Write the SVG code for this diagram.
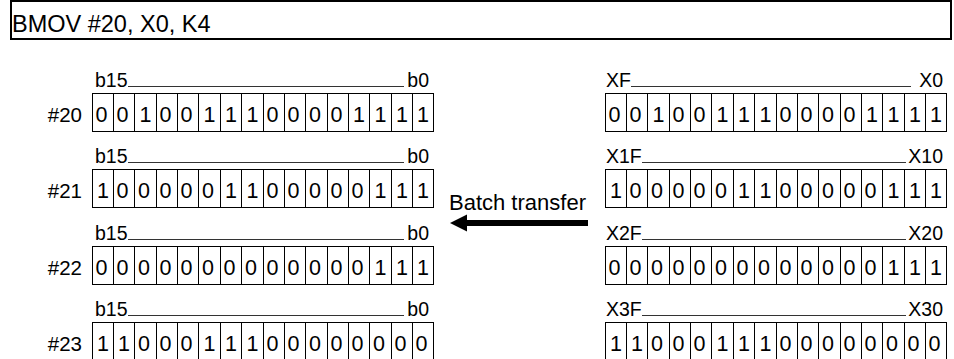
<svg xmlns="http://www.w3.org/2000/svg" xmlns:xlink="http://www.w3.org/1999/xlink" width="954" height="359" viewBox="0 0 954 359">
<style>
  text { font-family: "Liberation Sans", Arial, sans-serif; fill: #000; }
  .t { font-size: 23.5px; }
  .bt { font-size: 22px; }
  .lb { font-size: 19.5px; }
  .rn { font-size: 20.5px; text-anchor: end; }
  .d { font-size: 21.5px; text-anchor: middle; }
  .end { text-anchor: end; }
  .grid rect, .grid path { fill: none; stroke: #000; stroke-width: 1; }
  .rule { stroke: #333; stroke-width: 1; fill: none; }
</style>
<defs>
  <g id="grid" class="grid">
    <rect x="0" y="0" width="341" height="38"/>
    <path d="M21 0v38M42 0v38M64 0v38M85 0v38M106 0v38M128 0v38M149 0v38M171 0v38M192 0v38M213 0v38M235 0v38M256 0v38M277 0v38M299 0v38M320 0v38"/>
  </g>
</defs>
<rect width="954" height="359" fill="#fff"/>
<g id="title">
  <rect x="11" y="1" width="940" height="38" fill="none" stroke="#000" stroke-width="2"/>
  <text class="t" x="12" y="32">BMOV #20, X0, K4</text>
</g>

<g id="reg20">
  <text class="lb" x="95" y="87">b15</text>
  <line class="rule" x1="128" y1="86.5" x2="404" y2="86.5"/>
  <text class="lb end" x="429" y="87">b0</text>
  <text class="rn" x="82" y="121.5">#20</text>
  <use xlink:href="#grid" x="92.5" y="93.5"/>
  <text class="d" x="101.5 122.5 145.5 165.5 186.5 209.5 231 252.5 272.5 293.5 315 336.5 359 380.5 402 423" y="121.5">0010011100001111</text>
</g>
<g id="reg21">
  <text class="lb" x="95" y="163">b15</text>
  <line class="rule" x1="128" y1="162.5" x2="404" y2="162.5"/>
  <text class="lb end" x="429" y="163">b0</text>
  <text class="rn" x="82" y="197.5">#21</text>
  <use xlink:href="#grid" x="92.5" y="169.5"/>
  <text class="d" x="103 122.5 144 165.5 186.5 208 231 252.5 272.5 293.5 315 336.5 357.5 380.5 402 423" y="197.5">1000001100000111</text>
</g>
<g id="reg22">
  <text class="lb" x="95" y="240">b15</text>
  <line class="rule" x1="128" y1="239.5" x2="404" y2="239.5"/>
  <text class="lb end" x="429" y="240">b0</text>
  <text class="rn" x="82" y="274.5">#22</text>
  <use xlink:href="#grid" x="92.5" y="246.5"/>
  <text class="d" x="101.5 122.5 144 165.5 186.5 208 229.5 251 272.5 293.5 315 336.5 357.5 380.5 402 423" y="274.5">0000000000000111</text>
</g>
<g id="reg23">
  <text class="lb" x="95" y="316">b15</text>
  <line class="rule" x1="128" y1="315.5" x2="404" y2="315.5"/>
  <text class="lb end" x="429" y="316">b0</text>
  <text class="rn" x="82" y="350.5">#23</text>
  <use xlink:href="#grid" x="92.5" y="322.5"/>
  <text class="d" x="103 124 144 165.5 186.5 209.5 231 252.5 272.5 293.5 315 336.5 357.5 379 400.5 421.5" y="350.5">1100011100000000</text>
</g>

<g id="x0">
  <text class="lb" x="606" y="87">XF</text>
  <line class="rule" x1="631" y1="86.5" x2="911" y2="86.5"/>
  <text class="lb end" x="943" y="87">X0</text>
  <use xlink:href="#grid" x="605.5" y="93.5"/>
  <text class="d" x="614.5 635.5 658.5 678.5 699.5 722.5 744 765.5 785.5 806.5 828 849.5 872 893.5 915 936" y="121.5">0010011100001111</text>
</g>
<g id="x10">
  <text class="lb" x="606" y="163">X1F</text>
  <line class="rule" x1="642" y1="162.5" x2="906" y2="162.5"/>
  <text class="lb end" x="943" y="163">X10</text>
  <use xlink:href="#grid" x="605.5" y="169.5"/>
  <text class="d" x="616 635.5 657 678.5 699.5 721 744 765.5 785.5 806.5 828 849.5 870.5 893.5 915 936" y="197.5">1000001100000111</text>
</g>
<g id="x20">
  <text class="lb" x="606" y="240">X2F</text>
  <line class="rule" x1="642" y1="239.5" x2="906" y2="239.5"/>
  <text class="lb end" x="943" y="240">X20</text>
  <use xlink:href="#grid" x="605.5" y="246.5"/>
  <text class="d" x="614.5 635.5 657 678.5 699.5 721 742.5 764 785.5 806.5 828 849.5 870.5 893.5 915 936" y="274.5">0000000000000111</text>
</g>
<g id="x30">
  <text class="lb" x="606" y="316">X3F</text>
  <line class="rule" x1="642" y1="315.5" x2="906" y2="315.5"/>
  <text class="lb end" x="943" y="316">X30</text>
  <use xlink:href="#grid" x="605.5" y="322.5"/>
  <text class="d" x="616 637 657 678.5 699.5 722.5 744 765.5 785.5 806.5 828 849.5 870.5 892 913.5 934.5" y="350.5">1100011100000000</text>
</g>

<g id="connectors">
  <text class="bt" x="449" y="210">Batch transfer</text>
  <rect x="464" y="220" width="124" height="6" fill="#000"/>
  <polygon points="450,223 467,214.5 467,231.5" fill="#000"/>
</g>
</svg>
